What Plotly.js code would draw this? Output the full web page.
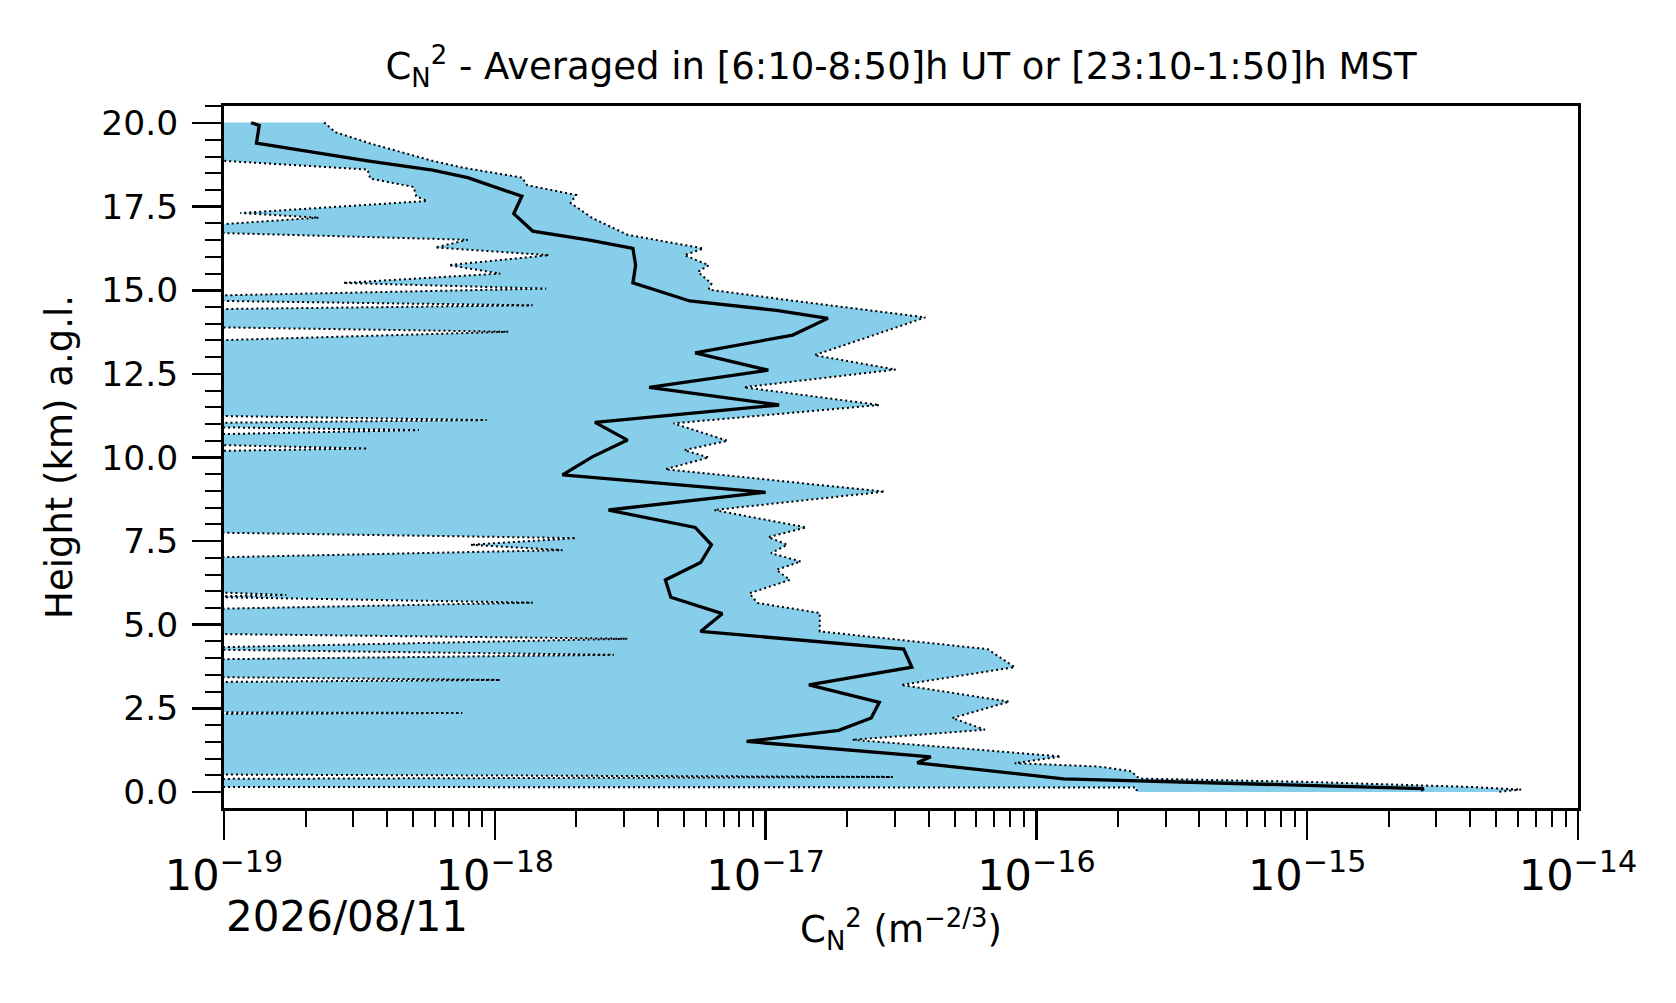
<!DOCTYPE html>
<html>
<head>
<meta charset="utf-8">
<script src="https://cdn.plot.ly/plotly-3.0.1.min.js"></script>
<style>
  body { margin: 0; background: #fff; }
  #chart { width: 1676px; height: 1003px; }
</style>
</head>
<body>
<div id="chart"></div>
<script>
// values, as log10(Cn2); heights in km
var OFF = -22; // lower bound below the axis (masked)

var meanH = [20.01, 19.93, 19.40, 18.87, 18.59, 18.37, 17.81, 17.29, 16.77, 16.50, 16.25, 15.75, 15.22,
  14.68, 14.40, 14.16, 13.66, 13.13, 12.61, 12.10, 11.57, 11.05, 10.52, 10.02, 9.48, 8.96, 8.43,
  7.91, 7.39, 6.86, 6.34, 5.82, 5.33, 4.80, 4.27, 3.73, 3.20, 2.68, 2.21, 1.84, 1.51, 1.05, 0.87,
  0.39, 0.10, 0.05];
var meanLog = [-18.90, -18.87, -18.88, -18.47, -18.23, -18.10, -17.90, -17.93, -17.86, -17.65, -17.49, -17.48, -17.49,
  -17.28, -16.96, -16.77, -16.90, -17.26, -16.99, -17.43, -16.95, -17.63, -17.51, -17.64, -17.75, -17.00, -17.58,
  -17.26, -17.20, -17.24, -17.37, -17.35, -17.16, -17.24, -16.49, -16.46, -16.84, -16.58, -16.61, -16.73, -17.07, -16.39, -16.44,
  -15.90, -14.57, -14.58];

var upH = [20.02, 19.73, 19.39, 18.87, 18.67, 18.37, 18.14, 17.85, 17.61, 17.16,
  16.66, 16.25, 16.05, 15.75, 15.55, 15.20, 15.02, 14.70, 14.19, 13.66,
  13.06, 12.63, 12.10, 11.57, 11.02, 10.50, 10.22, 10.00, 9.65, 8.98,
  8.43, 7.91, 7.62, 7.39, 7.14, 6.89, 6.64, 6.34, 5.94, 5.65,
  5.35, 4.80, 4.27, 3.73, 3.20, 2.70, 2.21, 1.86, 1.56, 1.26,
  1.06, 0.86, 0.76, 0.62, 0.40, 0.30, 0.15, 0.07, 0.0];
var upLog = [-18.63, -18.59, -18.46, -18.23, -18.12, -17.90, -17.88, -17.70, -17.72, -17.64,
  -17.51, -17.23, -17.30, -17.21, -17.25, -17.20, -17.21, -16.91, -16.41, -16.60,
  -16.82, -16.52, -17.08, -16.58, -17.34, -17.14, -17.30, -17.21, -17.37, -16.56,
  -17.19, -16.85, -16.99, -16.92, -16.98, -16.87, -16.96, -16.91, -17.06, -17.03,
  -16.80, -16.80, -16.18, -16.08, -16.50, -16.10, -16.31, -16.19, -16.68, -16.21,
  -15.91, -16.08, -15.77, -15.65, -15.62, -15.00, -14.40, -14.21, -14.30];

var lowH = [20.02, 18.90,
  18.87, 18.61, 18.34, 18.09, 17.81, 17.67, 17.31, 17.17, 16.98, 16.95,
  16.74, 16.71, 16.51, 16.28, 16.05, 15.75, 15.50, 15.22, 15.05, 14.85, 14.82,
  14.71, 14.68, 14.55, 14.44, 14.41,
  13.92, 13.89, 13.76, 13.51, 13.48,
  11.27, 11.24, 11.12, 11.04, 11.01,
  10.93, 10.90, 10.82, 10.70, 10.67,
  10.40, 10.37, 10.27, 10.20, 10.17,
  7.78, 7.75, 7.59, 7.39, 7.23, 7.02, 6.99,
  5.99, 5.96, 5.89, 5.85, 5.835, 5.82, 5.66, 5.48, 5.45,
  4.75, 4.72, 4.58, 4.33, 4.29, 4.25, 4.10, 3.97, 3.94,
  3.46, 3.43, 3.35, 3.29, 3.26,
  2.40, 2.38, 2.36, 2.34, 2.32,
  0.55, 0.52, 0.45, 0.39, 0.36,
  0.20, 0.15, 0.13, 0.0];
var lowLog = [OFF, OFF,
  -19, -18.47, -18.46, -18.30, -18.29, -18.25, -18.94, -18.65, -19, OFF,
  OFF, -19, -18.10, -18.22, -17.80, -18.17, -17.98, -18.56, -17.81, -19, OFF,
  OFF, -19, -17.86, -19, OFF,
  OFF, -19, -17.95, -19, OFF,
  OFF, -19, -18.03, -19, OFF,
  OFF, -19, -18.28, -19, OFF,
  OFF, -19, -18.47, -19, OFF,
  OFF, -19, -17.70, -18.09, -17.75, -19, OFF,
  OFF, -19, -18.77, -19, OFF, -19, -17.86, -19, OFF,
  OFF, -19, -17.51, -19, OFF, -19, -17.56, -19, OFF,
  OFF, -19, -17.98, -19, OFF,
  OFF, -19, -18.12, -19, OFF,
  OFF, -19, -16.53, -19, OFF,
  OFF, -19, -15.63, -15.63];

var yTicks = [0, 2.5, 5, 7.5, 10, 12.5, 15, 17.5, 20];
var xDecades = [-19, -14];

function pw(arr) {
  return arr.map(function (v) { return Math.pow(10, v); });
}

var font = 'DejaVu Sans, sans-serif';

var lower = {
  x: pw(lowLog), y: lowH,
  type: 'scatter', mode: 'lines',
  line: {color: 'black', width: 2, dash: '2px,3px', simplify: false},
  hoverinfo: 'skip'
};
var upper = {
  x: pw(upLog), y: upH,
  type: 'scatter', mode: 'lines',
  fill: 'tonextx', fillcolor: '#87CEEB',
  line: {color: 'black', width: 2, dash: '2px,3px', simplify: false},
  hoverinfo: 'skip'
};
var mean = {
  x: pw(meanLog), y: meanH,
  type: 'scatter', mode: 'lines',
  line: {color: 'black', width: 3.3, simplify: false},
  hoverinfo: 'skip'
};

var layout = {
  width: 1676, height: 1003,
  margin: {l: 224, r: 98, t: 106, b: 195},
  paper_bgcolor: 'white', plot_bgcolor: 'white',
  showlegend: false,
  font: {family: font, color: 'black', size: 34},
  title: {
    text: 'C<sub>N</sub><sup>2</sup> - Averaged in [6:10-8:50]h UT or [23:10-1:50]h MST',
    font: {family: font, size: 37, color: 'black'},
    x: 0.5, xref: 'paper', y: 0.934, yanchor: 'middle'
  },
  xaxis: {
    type: 'log', range: xDecades, dtick: 1,
    exponentformat: 'power', showexponent: 'all',
    ticks: 'outside', ticklen: 29, tickwidth: 2.5, tickcolor: 'black',
    minor: {ticks: 'outside', ticklen: 16, tickwidth: 2, tickcolor: 'black', dtick: 'D1', showgrid: false},
    showline: true, linecolor: 'black', linewidth: 3, mirror: true,
    showgrid: false, zeroline: false, automargin: false,
    tickfont: {family: font, size: 34.5, color: 'black'},
    title: {text: 'C<sub>N</sub><sup>2</sup> (m<sup>−2/3</sup>)', font: {family: font, size: 37, color: 'black'}, standoff: 18}
  },
  yaxis: {
    range: [-0.48, 20.51],
    tickmode: 'array', tickvals: yTicks, tickformat: '.1f',
    ticks: 'outside', ticklen: 29, tickwidth: 2.5, tickcolor: 'black',
    ticklabelstandoff: 7,
    minor: {ticks: 'outside', ticklen: 16, tickwidth: 2, tickcolor: 'black', dtick: 0.5, tick0: 0, showgrid: false},
    showline: true, linecolor: 'black', linewidth: 3, mirror: true,
    showgrid: false, zeroline: false, automargin: false,
    tickfont: {family: font, size: 34.5, color: 'black'},
    title: {text: 'Height (km) a.g.l.', font: {family: font, size: 37, color: 'black'}, standoff: 18}
  },
  annotations: [{
    text: '2026/08/11', xref: 'paper', yref: 'paper',
    x: 0, y: -0.155, xanchor: 'left', yanchor: 'middle',
    showarrow: false, font: {family: font, size: 42, color: 'black'}
  }]
};

Plotly.newPlot('chart', [lower, upper, mean], layout, {displayModeBar: false, staticPlot: true});
</script>
</body>
</html>
